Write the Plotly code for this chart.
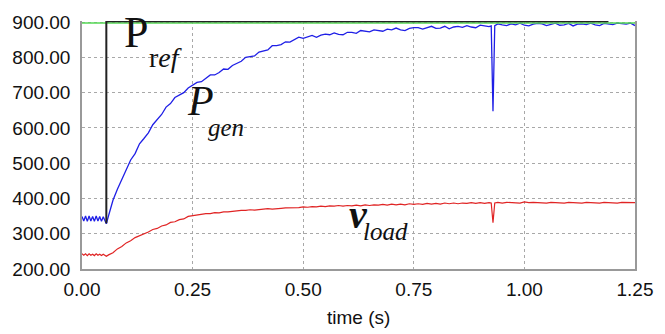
import plotly.graph_objects as go

# ---------------- data ----------------
t_pre = [0.000, 0.004, 0.008, 0.012, 0.016, 0.020, 0.024, 0.028, 0.032,
         0.036, 0.040, 0.044, 0.048, 0.052, 0.055]
t_mid = [round(0.06 + 0.01 * i, 3) for i in range(87)]      # 0.06 .. 0.92
t_spike = [0.925, 0.929, 0.933]
t_post = [round(0.94 + 0.01 * i, 3) for i in range(32)]     # 0.94 .. 1.25
time = t_pre + t_mid + t_spike + t_post

p_gen = [
    349, 336, 350, 335, 350, 336, 349, 335, 350, 336, 349, 335, 348, 334, 328,
    351, 395, 426, 454, 486, 509, 527, 555, 570, 586,
    609, 624, 638, 659, 669, 686, 692, 700, 713, 722,
    729, 731, 741, 750, 750, 757, 767, 766, 777, 784,
    789, 800, 801, 804, 815, 819, 821, 833, 833, 836,
    844, 843, 851, 857, 854, 857, 862, 857, 863, 866,
    864, 869, 865, 864, 871, 871, 868, 876, 873, 872,
    878, 876, 874, 880, 878, 883, 878, 876, 882, 884,
    884, 880, 884, 888, 882, 883, 888, 881, 886, 888,
    885, 890, 886, 884, 891, 890, 887,
    889, 647, 890,
    895, 892, 890, 895, 892, 897, 891, 889, 894, 896,
    895, 890, 894, 897, 891, 892, 896, 889, 894, 895,
    893, 897, 892, 890, 896, 895, 893, 897, 896, 894, 897, 890,
]

v_load = [
    243, 239, 243, 238, 243, 239, 242, 238, 243, 239, 242, 238, 242, 238, 236,
    240, 246, 257, 264, 274, 280, 289, 294, 301, 305,
    312, 315, 322, 325, 332, 334, 340, 342, 349, 351,
    354, 354, 357, 357, 360, 359, 362, 362, 364, 364,
    366, 366, 368, 367, 369, 369, 371, 370, 372, 372,
    373, 373, 375, 374, 376, 375, 377, 376, 378, 377,
    379, 378, 380, 378, 380, 379, 381, 379, 382, 380,
    382, 381, 383, 381, 384, 382, 384, 382, 385, 383,
    385, 383, 386, 384, 386, 384, 387, 385, 387, 385,
    387, 386, 388, 386, 388, 386, 388,
    387, 331, 387,
    389, 387, 389, 388, 389, 387, 390, 388, 389, 388,
    389, 387, 389, 388, 389, 387, 389, 388, 389, 387,
    389, 388, 389, 387, 389, 388, 389, 387, 389, 388, 389, 388,
]

t_ref = [0.055, 0.055, 1.19]
p_ref = [330, 902, 902]

t_green = [0.0, 1.25]
green_level = [897, 897]

y_ticks = [200, 300, 400, 500, 600, 700, 800, 900]
x_ticks = [0.0, 0.25, 0.5, 0.75, 1.0, 1.25]

# ---------------- figure ----------------
fig = go.Figure()
fig.add_trace(go.Scatter(x=time, y=p_gen, mode="lines",
                         line=dict(color="#1f1fe6", width=1.3), hoverinfo="skip"))
fig.add_trace(go.Scatter(x=t_green, y=green_level, mode="lines",
                         line=dict(color="#55d855", width=1.5), hoverinfo="skip"))
fig.add_trace(go.Scatter(x=time, y=v_load, mode="lines",
                         line=dict(color="#e02424", width=1.2), hoverinfo="skip"))
fig.add_trace(go.Scatter(x=t_ref, y=p_ref, mode="lines",
                         line=dict(color="#222222", width=2), hoverinfo="skip"))

serif = "Liberation Serif, Times New Roman, serif"
ann = [
    dict(x=0.0905, y=870, text="P", font=dict(family=serif, size=44)),
    dict(x=0.146, y=800, text="r<i>ef</i>", font=dict(family=serif, size=28)),
    dict(x=0.232, y=675, text="<i>P</i>", font=dict(family=serif, size=42)),
    dict(x=0.2805, y=601, text="<i>gen</i>", font=dict(family=serif, size=25)),
    dict(x=0.598, y=355, text="<b><i>v</i></b>", font=dict(family=serif, size=40)),
    dict(x=0.6316, y=307, text="<i>load</i>", font=dict(family=serif, size=25)),
]
for a in ann:
    a.update(xref="x", yref="y", showarrow=False, xanchor="left", yanchor="middle")
    a["font"]["color"] = "#111111"
    fig.add_annotation(**a)

tickfont = dict(family="Liberation Sans, Arial, sans-serif", size=19, color="#111111")

# x-axis title as a paper-anchored text (keeps the plot area fixed)
fig.add_annotation(x=0.5, y=-0.195, xref="paper", yref="paper", text="time (s)",
                   showarrow=False, xanchor="center", yanchor="middle",
                   font=tickfont)

fig.update_layout(
    width=665, height=334,
    margin=dict(l=77, r=22, t=13, b=65),
    paper_bgcolor="white", plot_bgcolor="white",
    showlegend=False,
    xaxis=dict(range=[0, 1.25], tickvals=x_ticks, tickformat=".2f",
               showgrid=True, gridcolor="#a8a8a8", griddash="dot", gridwidth=1,
               zeroline=False, showline=True, linecolor="#999999", linewidth=1.5,
               ticks="outside", ticklen=2, tickcolor="rgba(0,0,0,0)",
               tickfont=tickfont),
    yaxis=dict(range=[200, 903], tickvals=y_ticks, tickformat=".2f",
               showgrid=True, gridcolor="#a8a8a8", griddash="dot", gridwidth=1,
               zeroline=False, showline=True, linecolor="#999999", linewidth=1.5,
               mirror=True,
               ticks="outside", ticklen=6, tickcolor="rgba(0,0,0,0)",
               tickfont=tickfont),
)

fig.write_html("out.html")
